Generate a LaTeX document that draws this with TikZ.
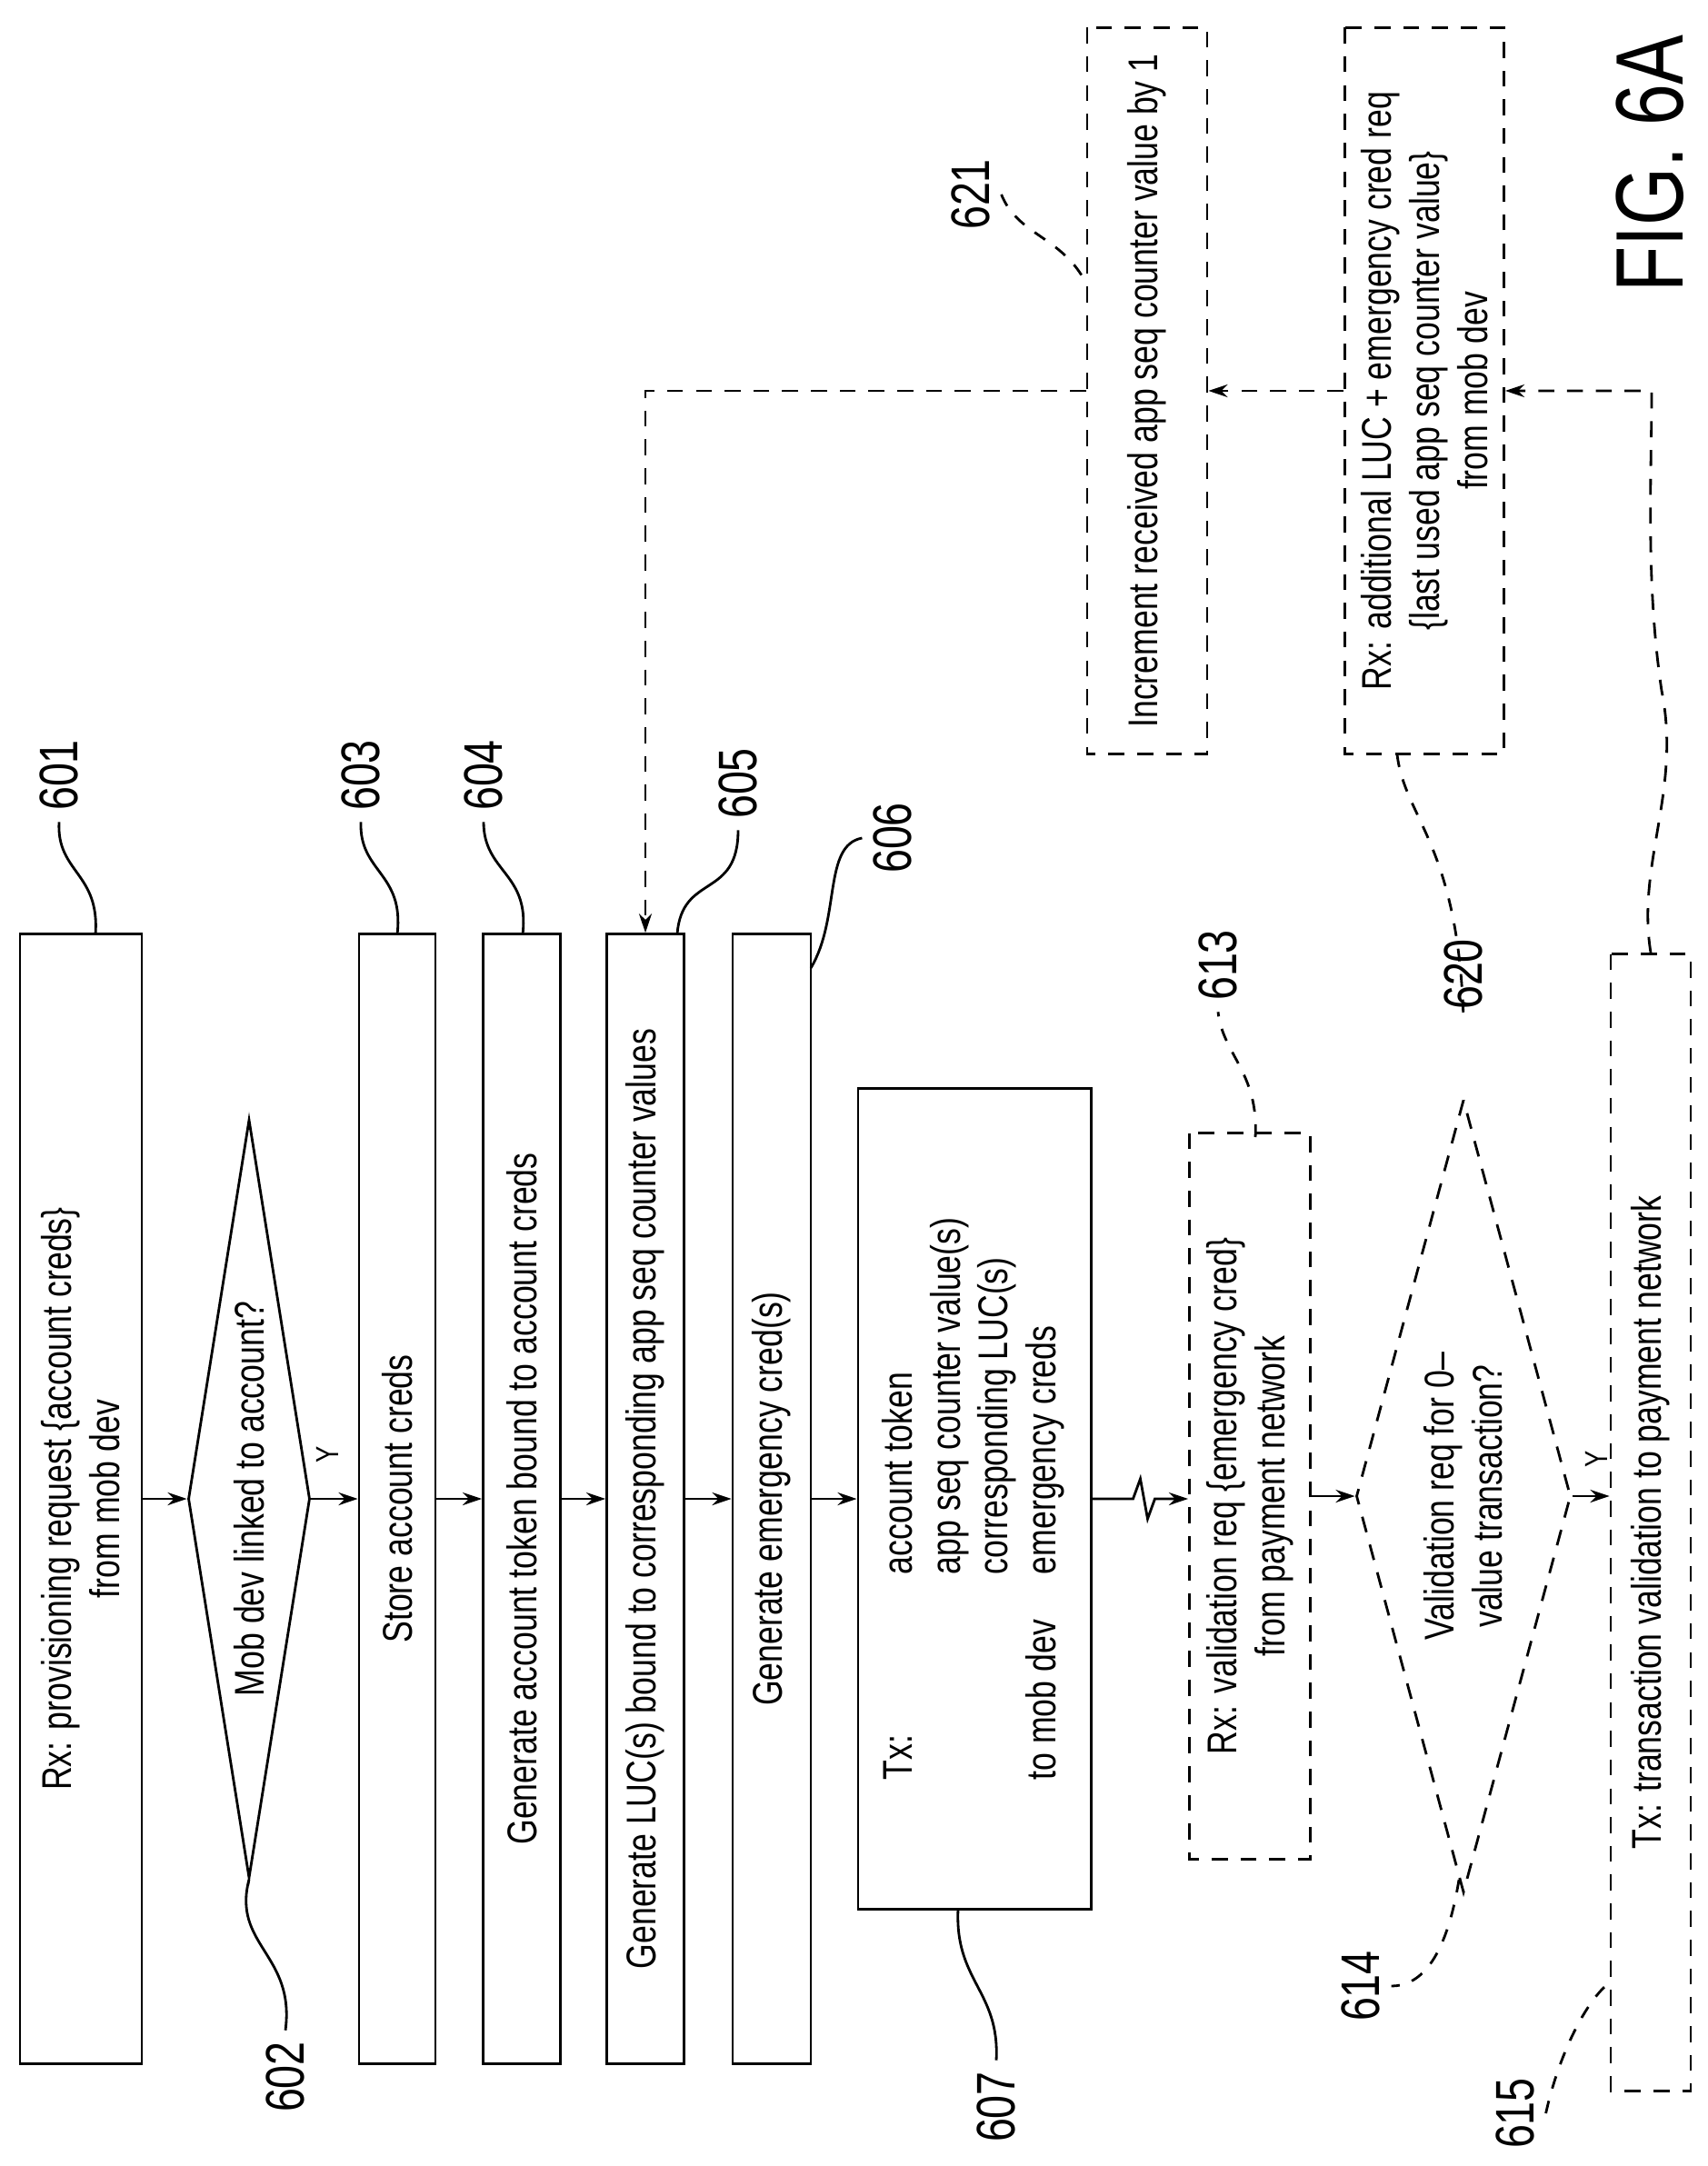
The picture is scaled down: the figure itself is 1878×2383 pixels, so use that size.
\documentclass[tikz,border=0pt]{standalone}
\usepackage{fontspec}
\setmainfont{Liberation Sans}[FakeStretch=0.78]
\usetikzlibrary{positioning,shapes.geometric,arrows.meta}
\tikzset{
    box/.style={draw, thick, rotate=90, inner sep=0pt, align=center, font=\fontsize{13}{15}\selectfont},
    dbox/.style={box, dash pattern=on 5pt off 4pt},
    test/.style={box, diamond},
    flow/.style={thick, -{Stealth[length=6pt,width=4pt]}},
    dflow/.style={flow, dash pattern=on 5pt off 4pt},
    ref/.style={rotate=90, font=\fontsize{17}{19}\selectfont},
    lead/.style={thick},
    dlead/.style={thick, dash pattern=on 4pt off 4pt}
}
\begin{document}
\begin{tikzpicture}[x=0.01cm, y=-0.01cm]
	\useasboundingbox (0,0) rectangle (1878,2383);
	% left column, drawn solid
	\node[box, minimum width=12.42cm, minimum height=1.34cm] (rxProv) at (89,1649) {Rx: provisioning request \{account creds\}\\from mob dev};
	\node[test, aspect=6.2, minimum width=8.34cm, minimum height=1.34cm] (mobLinked) at (274,1649) {Mob dev linked to account?};
	\node[box, minimum width=12.42cm, minimum height=0.84cm] (storeCreds) at (437,1649) {Store account creds};
	\node[box, minimum width=12.42cm, minimum height=0.85cm] (genToken) at (574,1649) {Generate account token bound to account creds};
	\node[box, minimum width=12.42cm, minimum height=0.85cm] (genLuc) at (710,1649) {Generate LUC(s) bound to corresponding app seq counter values};
	\node[box, minimum width=12.42cm, minimum height=0.86cm] (genEmerg) at (849,1649) {Generate emergency cred(s)};
	\node[box, minimum width=9.02cm, minimum height=2.56cm, align=left] (txDev) at (1072,1649) {%
		\begin{tabular}{@{}l@{\hspace{0.5cm}}l@{}}
		Tx: & account token\\
		    & app seq counter value(s)\\
		    & corresponding LUC(s)\\
		to mob dev & emergency creds
		\end{tabular}};
	% right column, drawn dashed
	\node[dbox, minimum width=7.98cm, minimum height=1.33cm] (rxValid) at (1375,1646) {Rx: validation req \{emergency cred\}\\from payment network};
	\node[test, dash pattern=on 5pt off 4pt, aspect=3.7, minimum width=8.72cm, minimum height=2.36cm] (zeroValue) at (1610,1646) {Validation req for 0--\\value transaction?};
	\node[dbox, minimum width=12.5cm, minimum height=0.88cm] (txValid) at (1816,1675) {Tx: transaction validation to payment network};
	\node[dbox, minimum width=7.99cm, minimum height=1.75cm] (rxExtra) at (1567,430) {Rx: additional LUC + emergency cred req\\\{last used app seq counter value\}\\from mob dev};
	\node[dbox, minimum width=7.99cm, minimum height=1.32cm] (incCounter) at (1262,430) {Increment received app seq counter value by 1};
	\node[rotate=90, font=\fontsize{30}{32}\selectfont] (figName) at (1815,180) {FIG. 6A};

	% flow
	\draw[flow] (rxProv.south) -- (mobLinked.north);
	\draw[flow] (mobLinked.south) -- (storeCreds.north);
	\draw[flow] (storeCreds.south) -- (genToken.north);
	\draw[flow] (genToken.south) -- (genLuc.north);
	\draw[flow] (genLuc.south) -- (genEmerg.north);
	\draw[flow] (genEmerg.south) -- (txDev.north);
	\draw[flow] (txDev.south) -- ++(45,0) -- ++(8,-22) -- ++(8,44) -- ++(8,-22) -- (txDev.south -| rxValid.north);
	\draw[flow] (rxValid.south) -- (zeroValue.north);
	\draw[flow] (zeroValue.south) -- (zeroValue.south -| txValid.north);
	\node[rotate=90] (yesA) at (360,1600) {Y};
	\node[rotate=90] (yesB) at (1756,1605) {Y};
	% feedback
	\coordinate (turnA) at (1817,430);
	\coordinate (turnB) at (genLuc.east |- incCounter.north);
	\draw[dflow] (txValid.east) .. controls (1800,950) and (1850,870) .. (1828,760) .. controls (1810,640) and (1817,520) .. (turnA) -- (rxExtra.south);
	\draw[dflow] (rxExtra.north) -- (incCounter.south);
	\draw[dflow] (incCounter.north) -- (turnB) -- (genLuc.east);

	% reference numerals
	\node[ref] (l601) at (65,853) {601};
	\node[ref] (l602) at (314,2285) {602};
	\node[ref] (l603) at (397,853) {603};
	\node[ref] (l604) at (532,853) {604};
	\node[ref] (l605) at (812,862) {605};
	\node[ref] (l606) at (982,922) {606};
	\node[ref] (l607) at (1096,2318) {607};
	\node[ref] (l613) at (1340,1062) {613};
	\node[ref] (l614) at (1497,2185) {614};
	\node[ref] (l615) at (1667,2325) {615};
	\node[ref] (l620) at (1610,1072) {620};
	\node[ref] (l621) at (1068,214) {621};
	\draw[lead] (105,1028) .. controls (110,960) and (62,960) .. (l601.west);
	\draw[lead] (mobLinked.west) .. controls (255,2140) and (325,2150) .. (l602.east);
	\draw[lead] (437,1028) .. controls (445,960) and (395,960) .. (l603.west);
	\draw[lead] (575,1028) .. controls (583,960) and (532,960) .. (l604.west);
	\draw[lead] (745,1028) .. controls (750,960) and (812,990) .. (l605.west);
	\draw[lead] (892,1065) .. controls (925,1010) and (905,930) .. (l606.north);
	\draw[lead] (1054,2100) .. controls (1050,2180) and (1100,2190) .. (l607.east);
	\draw[dlead] (1381,1251) .. controls (1385,1180) and (1345,1160) .. (l613.west);
	\draw[dlead] (1605,2068) .. controls (1590,2160) and (1560,2185) .. (l614.south);
	\draw[dlead] (l615.south) .. controls (1715,2260) and (1745,2200) .. (1772,2180);
	\draw[dlead] (1537,830) .. controls (1545,900) and (1605,930) .. (l620.west);
	\draw[dlead] (l621.south) .. controls (1120,260) and (1170,260) .. (1196,314);
\end{tikzpicture}
\end{document}
